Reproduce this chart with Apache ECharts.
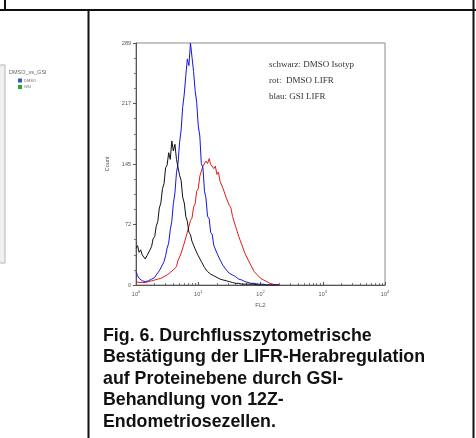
<!DOCTYPE html>
<html>
<head>
<meta charset="utf-8">
<script src="https://cdn.jsdelivr.net/npm/echarts@6/dist/echarts.min.js"></script>
<style>html,body{margin:0;padding:0;background:#fff}#c{width:476px;height:438px}</style>
</head>
<body>
<div id="c"></div>
<script>
// FL2 channel values (log scale, 0.025 decade steps)
const fl2 = [1.00,1.06,1.12,1.19,1.26,1.33,1.41,1.50,1.58,1.68,1.78,1.88,2.00,2.11,2.24,2.37,2.51,2.66,2.82,2.99,3.16,3.35,3.55,3.76,3.98,4.22,4.47,4.73,5.01,5.31,5.62,5.96,6.31,6.68,7.08,7.50,7.94,8.41,8.91,9.44,
10.0,10.6,11.2,11.9,12.6,13.3,14.1,15.0,15.8,16.8,17.8,18.8,20.0,21.1,22.4,23.7,25.1,26.6,28.2,29.9,31.6,33.5,35.5,37.6,39.8,42.2,44.7,47.3,50.1,53.1,56.2,59.6,63.1,66.8,70.8,75.0,79.4,84.1,89.1,94.4,
100,106,112,119,126,133,141,150,158,168,178,188,200];

// schwarz: DMSO Isotyp
const dmsoIsotyp = [44,47,39,42,36,38,31,35,33,42,46,55,58,70,76,92,98,115,121,140,143,158,150,172,160,168,150,152,131,125,105,98,82,76,63,60,52,50,43,41,
35,33,28,26,21,22,16,17,13,14,11,12,9,10,7,8,6,7,5,6,4,5,3,4,2,3,2,2,1,2,1,1,1,0,
1,0,1,0,0,1,0,0,0,0,0,0,0,0,0,0,0,0,0];

// blau: GSI LIFR
const gsiLifr = [16,11,8,6,5,6,4,6,5,7,7,9,9,12,13,17,19,24,28,35,44,50,66,76,97,110,134,145,170,185,212,228,250,270,262,289,272,255,232,218,
190,178,145,140,112,104,82,79,63,60,47,48,38,38,30,30,23,24,18,19,14,14,12,11,10,8,7,6,6,5,4,4,3,3,2,2,2,1,1,1,
1,0,1,0,0,0,0,0,0,0,0,0,0];

// rot: DMSO LIFR
const dmsoLifr = [4,3,3,2,3,4,3,4,4,5,5,6,6,7,7,8,8,9,10,11,12,13,15,16,18,20,22,29,30,38,40,50,52,63,65,77,80,93,97,112,
115,130,131,142,140,148,145,151,144,146,139,142,132,135,124,126,115,116,104,103,95,92,82,80,70,68,58,57,48,47,38,38,30,30,23,23,16,16,12,11,
8,7,6,5,4,3,2,2,1,1,0,0,0];

const yTicks = [0,72,145,217,289];
const legendLines = ['schwarz: DMSO Isotyp','rot:  DMSO LIFR','blau: GSI LIFR'];
const captionLines = ['Fig. 6. Durchflusszytometrische','Bestätigung der LIFR-Herabregulation','auf Proteinebene durch GSI-','Behandlung von 12Z-','Endometriosezellen.'];

const pairs = arr => fl2.map((x,i)=>[x,arr[i]]);

const chart = echarts.init(document.getElementById('c'), null, {renderer:'canvas'});

const graphics = [
  // table rules
  {type:'rect', shape:{x:0,y:9,width:476,height:2}, style:{fill:'#111'}},
  {type:'rect', shape:{x:4,y:0,width:2,height:10}, style:{fill:'#111'}},
  {type:'rect', shape:{x:87.5,y:10,width:2,height:428}, style:{fill:'#111'}},
  {type:'rect', shape:{x:472.5,y:0,width:2,height:438}, style:{fill:'#111'}},
  // partial left chart
  {type:'rect', shape:{x:-10,y:65,width:15,height:198}, style:{fill:'#f0f0f0',stroke:'#b5b5b5',lineWidth:1}},
  {type:'text', x:9, y:72, style:{text:'DMSO_vs_GSI', font:'5.5px "Liberation Sans"', fill:'#666', verticalAlign:'middle'}},
  {type:'rect', shape:{x:18,y:78.5,width:4,height:4}, style:{fill:'#3355cc'}},
  {type:'text', x:24, y:80.5, style:{text:'DMSO', font:'4px "Liberation Sans"', fill:'#666', verticalAlign:'middle'}},
  {type:'rect', shape:{x:18,y:85,width:4,height:4}, style:{fill:'#22aa33'}},
  {type:'text', x:24, y:87, style:{text:'GSI', font:'4px "Liberation Sans"', fill:'#666', verticalAlign:'middle'}}
];
legendLines.forEach((t,i)=>graphics.push({type:'text', x:269, y:65+16*i, style:{text:t, font:'9px "Liberation Serif"', fill:'#333', verticalAlign:'middle'}}));
captionLines.forEach((t,i)=>graphics.push({type:'text', x:103, y:336+21.5*i, style:{text:t, font:'bold 17.8px "Liberation Sans"', fill:'#111', verticalAlign:'middle'}}));

chart.setOption({
  animation:false,
  grid:{left:136, top:43, width:249, height:242, show:true, borderColor:'#8a8a8a', borderWidth:1},
  xAxis:{
    type:'log', logBase:10, min:1, max:10000,
    name:'FL2', nameLocation:'middle', nameGap:15,
    nameTextStyle:{fontSize:6, color:'#555', fontFamily:'Liberation Sans'},
    axisLine:{show:true, lineStyle:{color:'#555', width:1}},
    axisTick:{show:true, inside:true, length:3, lineStyle:{color:'#555'}},
    minorTick:{show:true, splitNumber:9, length:2, lineStyle:{color:'#777'}},
    splitLine:{show:false},
    axisLabel:{
      margin:5,
      formatter:v=>'{b|10}{s|'+Math.round(Math.log10(v))+'}',
      rich:{b:{fontSize:5.5,color:'#555',fontFamily:'Liberation Sans'}, s:{fontSize:4,color:'#555',verticalAlign:'top',padding:[0,0,4,0],fontFamily:'Liberation Sans'}}
    }
  },
  yAxis:{
    type:'value', min:0, max:289, interval:72.25,
    name:'Count', nameLocation:'middle', nameGap:17, nameRotate:90,
    nameTextStyle:{fontSize:5.5, color:'#555', fontFamily:'Liberation Sans'},
    axisLine:{show:true, lineStyle:{color:'#555', width:1}},
    axisTick:{show:true, length:3, lineStyle:{color:'#555'}},
    minorTick:{show:true, splitNumber:4, length:2, lineStyle:{color:'#777'}},
    splitLine:{show:false},
    axisLabel:{margin:5, fontSize:5.5, color:'#555', fontFamily:'Liberation Sans',
      formatter:v=>{const r=Math.round(v); return yTicks.indexOf(r)>=0 ? String(r) : '';}}
  },
  series:[
    {name:'rot: DMSO LIFR', type:'line', data:pairs(dmsoLifr), showSymbol:false, lineStyle:{color:'#e41a1a', width:1}, z:2},
    {name:'blau: GSI LIFR', type:'line', data:pairs(gsiLifr), showSymbol:false, lineStyle:{color:'#1515e0', width:1}, z:3},
    {name:'schwarz: DMSO Isotyp', type:'line', data:pairs(dmsoIsotyp), showSymbol:false, lineStyle:{color:'#111', width:1}, z:4}
  ],
  graphic:graphics
});
</script>
</body>
</html>
